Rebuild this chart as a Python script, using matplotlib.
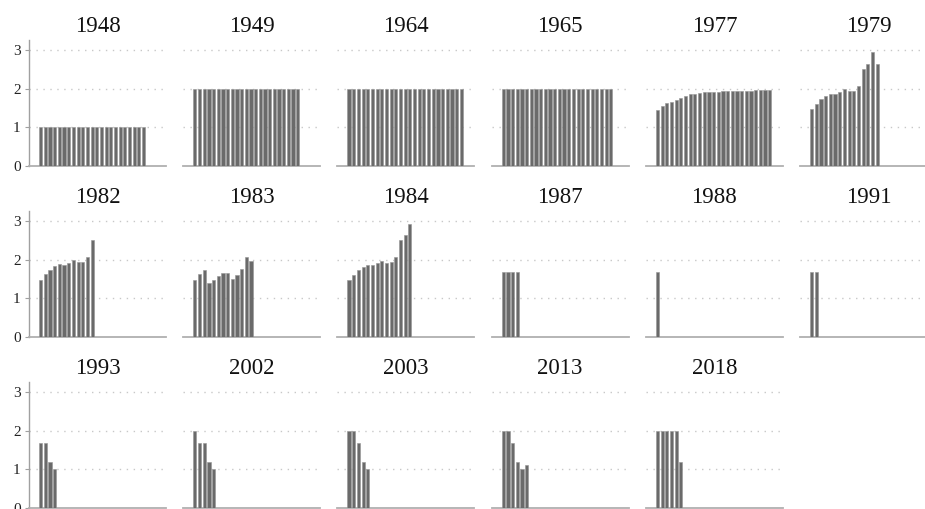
import matplotlib
matplotlib.use("Agg")
import matplotlib.pyplot as plt

years = ["1948", "1949", "1964", "1965", "1977", "1979",
         "1982", "1983", "1984", "1987", "1988", "1991",
         "1993", "2002", "2003", "2013", "2018"]

v1948 = [1.0] * 23
v1949 = [2.0] * 23
v1964 = [2.0] * 25
v1965 = [2.0] * 24
v1977 = [1.45, 1.55, 1.62, 1.66, 1.70, 1.77, 1.82, 1.85, 1.87, 1.89, 1.90, 1.91, 1.92,
         1.92, 1.93, 1.93, 1.94, 1.94, 1.95, 1.95, 1.95, 1.96, 1.96, 1.97, 1.97]
v1979 = [1.48, 1.61, 1.72, 1.82, 1.87, 1.87, 1.90, 1.99, 1.94, 1.95, 2.08, 2.51, 2.64, 2.95, 2.64]
v1982 = [1.48, 1.62, 1.72, 1.84, 1.89, 1.87, 1.91, 1.99, 1.93, 1.94, 2.08, 2.51]
v1983 = [1.48, 1.62, 1.72, 1.40, 1.48, 1.57, 1.65, 1.65, 1.50, 1.59, 1.76, 2.06, 1.97]
v1984 = [1.47, 1.61, 1.72, 1.82, 1.87, 1.85, 1.90, 1.97, 1.92, 1.93, 2.08, 2.50, 2.63, 2.92]
v1987 = [1.667, 1.667, 1.667, 1.667]
v1988 = [1.667]
v1991 = [1.667, 1.667]
v1993 = [1.667, 1.667, 1.2, 1.0]
v2002 = [2.0, 1.667, 1.667, 1.2, 1.0]
v2003 = [2.0, 2.0, 1.667, 1.2, 1.0]
v2013 = [2.0, 2.0, 1.667, 1.2, 1.0, 1.12]
v2018 = [2.0, 2.0, 2.0, 2.0, 2.0, 1.2]

series = [v1948, v1949, v1964, v1965, v1977, v1979,
          v1982, v1983, v1984, v1987, v1988, v1991,
          v1993, v2002, v2003, v2013, v2018]

yticks = [0, 1, 2, 3]

W, H = 925, 509
fig = plt.figure(figsize=(W / 100, H / 100), dpi=100)
serif = ["Liberation Serif", "DejaVu Serif"]

px_per_unit = 38.7
ytop = 3.25
ax_h = ytop * px_per_unit
ax_w = 137

for i, (yr, vals) in enumerate(zip(years, series)):
    r, c = divmod(i, 6)
    left = 29 + 154.2 * c
    base = 166 + 171 * r
    ax = fig.add_axes([left / W, (H - base) / H, ax_w / W, ax_h / H])
    ax.bar(range(len(vals)), vals, width=0.68, color="#6a6a6a",
           edgecolor="#959595", linewidth=0.4, zorder=3)
    ax.set_xlim(-2.5, 26.8)
    ax.set_ylim(0, ytop)
    for g in (1, 2, 3):
        ax.axhline(g, color="#c8c8c8", lw=1.0, ls=(0, (1, 4)), zorder=1)
    for s in ("top", "right"):
        ax.spines[s].set_visible(False)
    ax.spines["bottom"].set_color("#b0b0b0")
    ax.spines["bottom"].set_linewidth(1.3)
    ax.set_xticks([])
    if c == 0:
        ax.spines["left"].set_color("#a0a0a0")
        ax.spines["left"].set_linewidth(1.0)
        ax.set_yticks(yticks)
        ax.set_yticklabels([str(t) for t in yticks], fontfamily=serif,
                           fontsize=11, color="#222222")
        ax.tick_params(axis="y", length=3, width=0.8, color="#a0a0a0", pad=3)
    else:
        ax.spines["left"].set_visible(False)
        ax.set_yticks([])
    ax.set_title(yr, fontfamily=serif, fontsize=16.5, color="#111111", pad=6)
    ax.patch.set_alpha(0)

fig.savefig("out.png", dpi=100)
